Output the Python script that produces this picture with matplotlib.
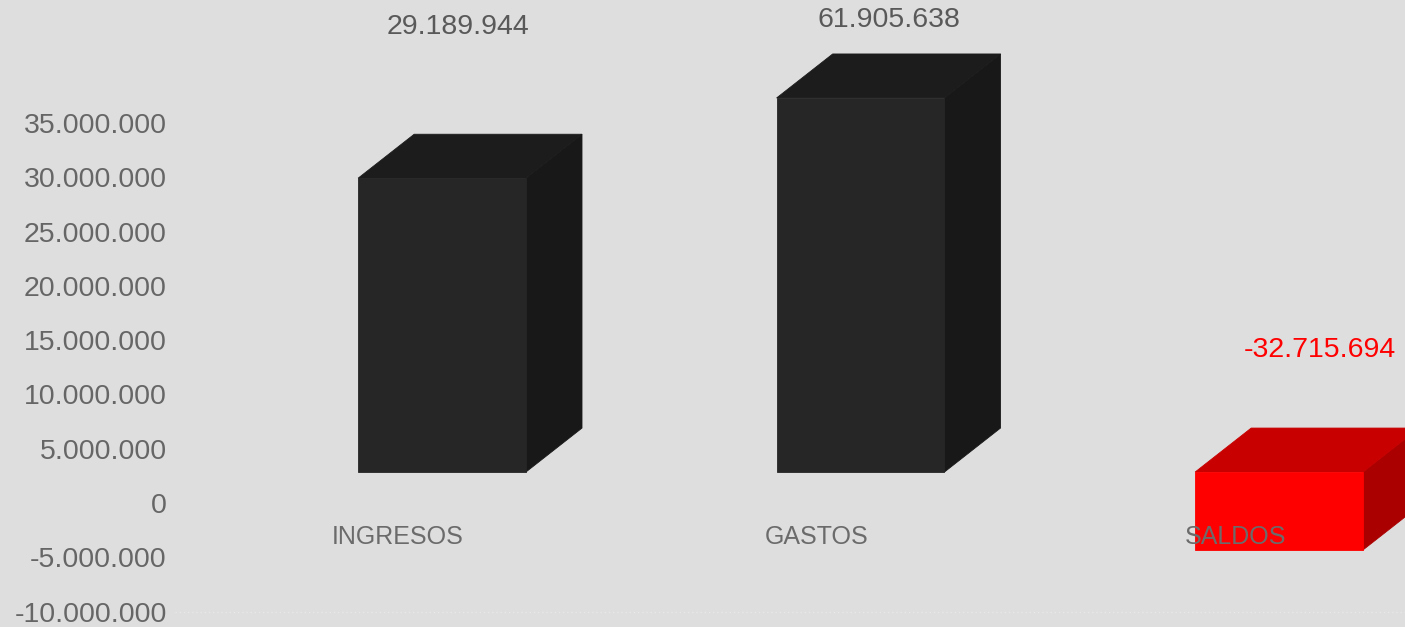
import matplotlib
matplotlib.use("Agg")
import matplotlib.pyplot as plt
from matplotlib.patches import Polygon
from matplotlib.ticker import FuncFormatter

# Data
categories = ["INGRESOS", "GASTOS", "SALDOS"]
values = [29189944, 61905638, -32715694]
bar_colors = [("#262626", "#1c1c1c", "#181818"),
              ("#262626", "#1c1c1c", "#181818"),
              ("#ff0000", "#c80000", "#aa0000")]
label_colors = ["#595959", "#595959", "#ff0000"]
yticks = list(range(-10_000_000, 35_000_001, 5_000_000))

# 3D-bar geometry (category units / value units)
floor = 2.85e6          # base of the bars in the 3D box
scale = 0.927           # value scale of the bar fronts
clip_top, clip_bottom = 37.3e6, -4.33e6
bar_w = 0.401
depth_x, depth_y = 0.134, 4.05e6

plt.rcParams["font.family"] = ["Liberation Sans Narrow", "Liberation Sans", "DejaVu Sans"]

fig = plt.figure(figsize=(14.05, 6.27), dpi=100, facecolor="#dedede")
ax = fig.add_axes([175 / 1405, 0, 1 - 175 / 1405, 1])
ax.set_facecolor("#dedede")
ax.set_xlim(-0.638, 2.301)
ax.set_ylim(-11.42e6, 46.32e6)

for s in ax.spines.values():
    s.set_visible(False)
ax.set_xticks([])
ax.set_yticks(yticks)
ax.yaxis.set_major_formatter(FuncFormatter(lambda v, p: f"{int(v):,}".replace(",", ".")))
ax.tick_params(axis="y", length=0, pad=6, labelsize=20.5, labelcolor="#666666")

ax.axhline(-10e6, color="#e8e8e8", lw=1, ls=(0, (1, 2)), zorder=0)

for i, (cat, v) in enumerate(zip(categories, values)):
    front_c, top_c, side_c = bar_colors[i]
    top = min(max(floor + v * scale, clip_bottom), clip_top)
    lo, hi = min(floor, top), max(floor, top)
    x0, x1 = i - bar_w / 2, i + bar_w / 2
    # side face
    ax.add_patch(Polygon([(x1, lo), (x1 + depth_x, lo + depth_y),
                          (x1 + depth_x, hi + depth_y), (x1, hi)],
                         closed=True, fc=side_c, ec=side_c, lw=0.6, zorder=2))
    # top face
    ax.add_patch(Polygon([(x0, hi), (x1, hi), (x1 + depth_x, hi + depth_y),
                          (x0 + depth_x, hi + depth_y)],
                         closed=True, fc=top_c, ec=top_c, lw=0.6, zorder=2))
    # front face
    ax.add_patch(Polygon([(x0, lo), (x1, lo), (x1, hi), (x0, hi)],
                         closed=True, fc=front_c, ec=front_c, lw=0.6, zorder=3))

    ax.text(i - 0.105, -3.13e6, cat, ha="center", va="center",
            fontsize=18, color="#6b6b6b", zorder=5)

label_pos = [(0.038, 43.8e6), (0.069, 44.5e6), (0.098, 14.1e6)]
for i, v in enumerate(values):
    dx, y = label_pos[i]
    ax.text(i + dx, y, f"{v:,}".replace(",", "."), ha="center", va="center",
            fontsize=20.5, color=label_colors[i], zorder=5)

fig.savefig("out.png", dpi=100, facecolor=fig.get_facecolor())
